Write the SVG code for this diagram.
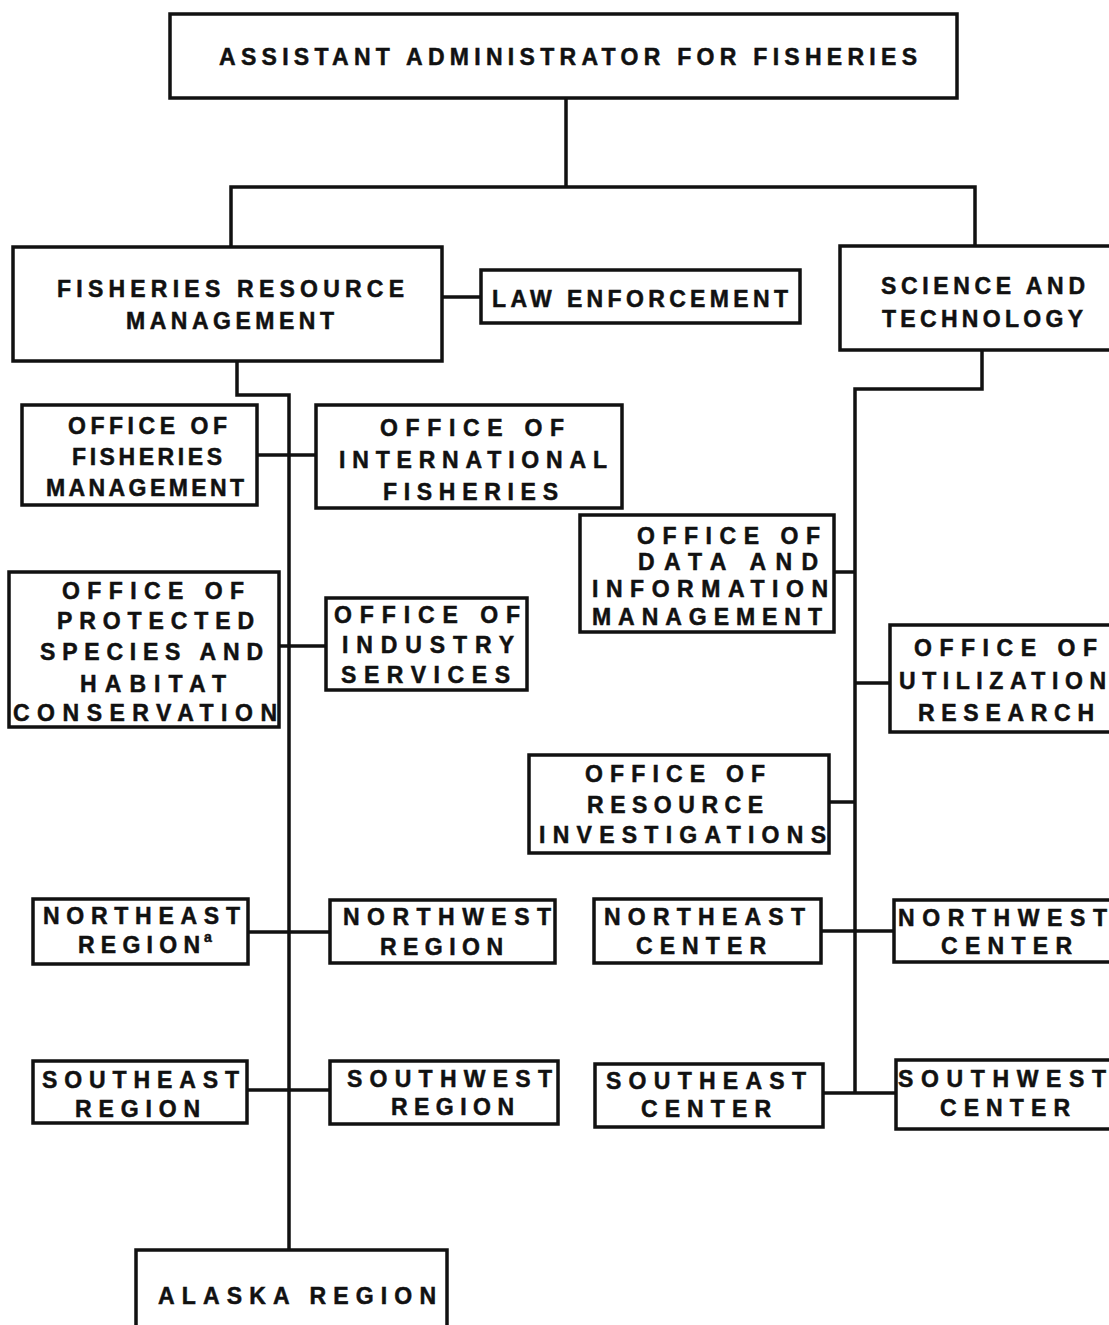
<svg xmlns="http://www.w3.org/2000/svg" width="1109" height="1325" viewBox="0 0 1109 1325">
<style>
.box{fill:#fff;stroke:#111;stroke-width:3.5}
.ln{fill:none;stroke:#111;stroke-width:3.5}
text{font-family:"Liberation Sans",Arial,sans-serif;font-weight:bold;font-size:23px;fill:#111;stroke:#111;stroke-width:0.5}
.sup{font-size:14px}
</style>
<rect width="1109" height="1325" fill="#fff"/>
<g id="connectors">
<path class="ln" d="M566,98 V187 M231,247 V187 H975 V246"/>
<path class="ln" d="M442,297 H481"/>
<path class="ln" d="M237,361 V395 H289 V1250"/>
<path class="ln" d="M982,350 V389 H855 V1093"/>
<path class="ln" d="M257,455 H316"/>
<path class="ln" d="M279,646 H326"/>
<path class="ln" d="M248,932 H330"/>
<path class="ln" d="M247,1090 H330"/>
<path class="ln" d="M834,572 H855"/>
<path class="ln" d="M855,683 H890"/>
<path class="ln" d="M829,802 H855"/>
<path class="ln" d="M821,931 H894"/>
<path class="ln" d="M823,1093 H896"/>
</g>
<g id="assistant-administrator">
<rect class="box" x="170" y="14" width="787" height="84"/>
<text x="219" y="65" textLength="698" lengthAdjust="spacing" font-size="24">ASSISTANT  ADMINISTRATOR FOR FISHERIES</text>
</g>
<g id="fisheries-resource-management">
<rect class="box" x="13" y="247" width="429" height="114"/>
<text x="57" y="297" textLength="347" lengthAdjust="spacing">FISHERIES  RESOURCE</text>
<text x="126" y="329" textLength="208" lengthAdjust="spacing">MANAGEMENT</text>
</g>
<g id="law-enforcement">
<rect class="box" x="481" y="270" width="319" height="53"/>
<text x="492" y="307" textLength="296" lengthAdjust="spacing">LAW ENFORCEMENT</text>
</g>
<g id="science-and-technology">
<rect class="box" x="840" y="246" width="290" height="104"/>
<text x="881" y="294" textLength="204" lengthAdjust="spacing">SCIENCE AND</text>
<text x="882" y="327" textLength="201" lengthAdjust="spacing">TECHNOLOGY</text>
</g>
<g id="office-fisheries-management">
<rect class="box" x="22" y="405" width="235" height="100"/>
<text x="68" y="434" textLength="159" lengthAdjust="spacing">OFFICE OF</text>
<text x="72" y="465" textLength="150" lengthAdjust="spacing">FISHERIES</text>
<text x="46" y="496" textLength="198" lengthAdjust="spacing">MANAGEMENT</text>
</g>
<g id="office-international-fisheries">
<rect class="box" x="316" y="405" width="306" height="103"/>
<text x="380" y="436" textLength="184" lengthAdjust="spacing">OFFICE OF</text>
<text x="339" y="468" textLength="268" lengthAdjust="spacing">INTERNATIONAL</text>
<text x="383" y="500" textLength="175" lengthAdjust="spacing">FISHERIES</text>
</g>
<g id="office-protected-species">
<rect class="box" x="9" y="572" width="270" height="155"/>
<text x="62" y="599" textLength="182" lengthAdjust="spacing">OFFICE OF</text>
<text x="57" y="629" textLength="197" lengthAdjust="spacing">PROTECTED</text>
<text x="40" y="660" textLength="223" lengthAdjust="spacing">SPECIES AND</text>
<text x="80" y="692" textLength="146" lengthAdjust="spacing">HABITAT</text>
<text x="13" y="721" textLength="264" lengthAdjust="spacing">CONSERVATION</text>
</g>
<g id="office-industry-services">
<rect class="box" x="326" y="598" width="201" height="92"/>
<text x="334" y="623" textLength="186" lengthAdjust="spacing">OFFICE OF</text>
<text x="342" y="653" textLength="172" lengthAdjust="spacing">INDUSTRY</text>
<text x="341" y="683" textLength="169" lengthAdjust="spacing">SERVICES</text>
</g>
<g id="office-data-information-management">
<rect class="box" x="580" y="515" width="254" height="117"/>
<text x="637" y="544" textLength="183" lengthAdjust="spacing">OFFICE OF</text>
<text x="638" y="570" textLength="180" lengthAdjust="spacing">DATA AND</text>
<text x="592" y="597" textLength="236" lengthAdjust="spacing">INFORMATION</text>
<text x="592" y="625" textLength="230" lengthAdjust="spacing">MANAGEMENT</text>
</g>
<g id="office-utilization-research">
<rect class="box" x="890" y="625" width="240" height="107"/>
<text x="914" y="656" textLength="183" lengthAdjust="spacing">OFFICE OF</text>
<text x="899" y="689" textLength="207" lengthAdjust="spacing">UTILIZATION</text>
<text x="918" y="721" textLength="176" lengthAdjust="spacing">RESEARCH</text>
</g>
<g id="office-resource-investigations">
<rect class="box" x="529" y="755" width="300" height="98"/>
<text x="585" y="782" textLength="180" lengthAdjust="spacing">OFFICE OF</text>
<text x="587" y="813" textLength="176" lengthAdjust="spacing">RESOURCE</text>
<text x="539" y="843" textLength="287" lengthAdjust="spacing">INVESTIGATIONS</text>
</g>
<g id="northeast-region">
<rect class="box" x="33" y="899" width="215" height="65"/>
<text x="43" y="924" textLength="197" lengthAdjust="spacing">NORTHEAST</text>
<text x="78" y="953" textLength="122" lengthAdjust="spacing">REGION</text>
<text x="204" y="942" class="sup">a</text>
</g>
<g id="northwest-region">
<rect class="box" x="330" y="900" width="225" height="63"/>
<text x="343" y="925" textLength="208" lengthAdjust="spacing">NORTHWEST</text>
<text x="380" y="955" textLength="123" lengthAdjust="spacing">REGION</text>
</g>
<g id="northeast-center">
<rect class="box" x="594" y="899" width="227" height="64"/>
<text x="604" y="925" textLength="201" lengthAdjust="spacing">NORTHEAST</text>
<text x="636" y="954" textLength="130" lengthAdjust="spacing">CENTER</text>
</g>
<g id="northwest-center">
<rect class="box" x="894" y="900" width="240" height="62"/>
<text x="898" y="926" textLength="209" lengthAdjust="spacing">NORTHWEST</text>
<text x="941" y="954" textLength="131" lengthAdjust="spacing">CENTER</text>
</g>
<g id="southeast-region">
<rect class="box" x="33" y="1061" width="214" height="62"/>
<text x="42" y="1088" textLength="197" lengthAdjust="spacing">SOUTHEAST</text>
<text x="75" y="1117" textLength="125" lengthAdjust="spacing">REGION</text>
</g>
<g id="southwest-region">
<rect class="box" x="330" y="1061" width="228" height="63"/>
<text x="347" y="1087" textLength="205" lengthAdjust="spacing">SOUTHWEST</text>
<text x="391" y="1115" textLength="123" lengthAdjust="spacing">REGION</text>
</g>
<g id="southeast-center">
<rect class="box" x="595" y="1064" width="228" height="63"/>
<text x="606" y="1089" textLength="200" lengthAdjust="spacing">SOUTHEAST</text>
<text x="641" y="1117" textLength="130" lengthAdjust="spacing">CENTER</text>
</g>
<g id="southwest-center">
<rect class="box" x="896" y="1060" width="240" height="69"/>
<text x="898" y="1087" textLength="208" lengthAdjust="spacing">SOUTHWEST</text>
<text x="940" y="1116" textLength="130" lengthAdjust="spacing">CENTER</text>
</g>
<g id="alaska-region">
<rect class="box" x="136" y="1250" width="311" height="100"/>
<text x="158" y="1304" textLength="278" lengthAdjust="spacing">ALASKA REGION</text>
</g>
</svg>
